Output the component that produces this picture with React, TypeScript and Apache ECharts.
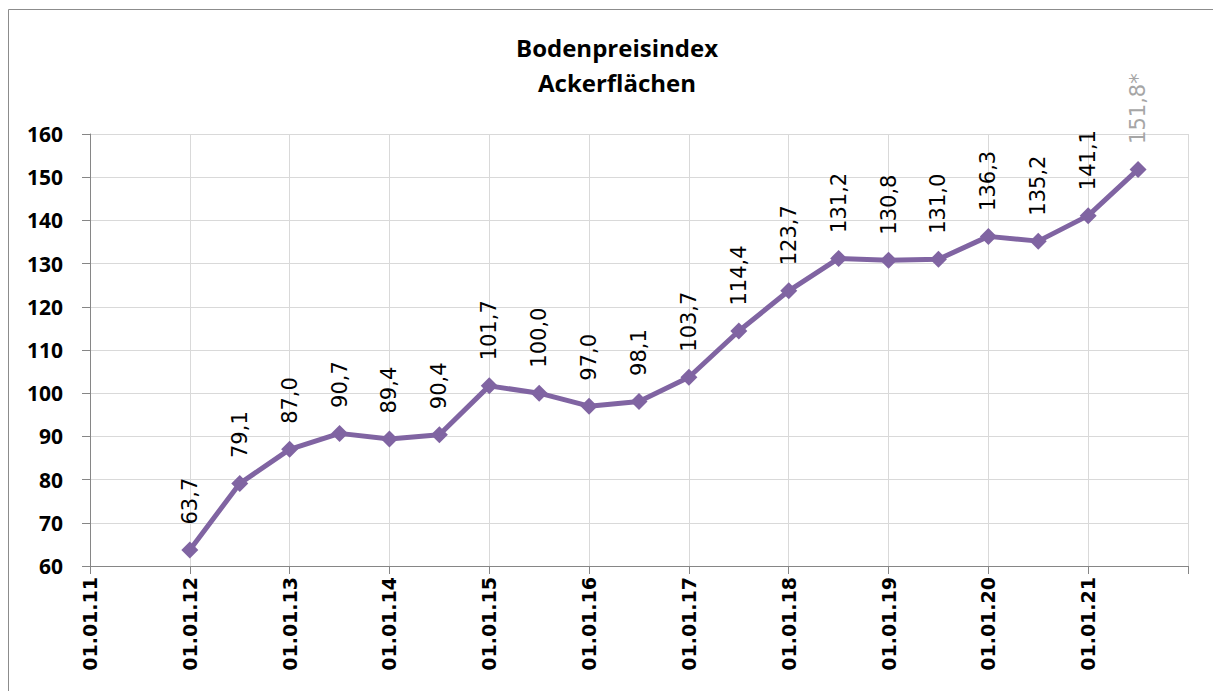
import React, { useEffect, useRef } from "react";
import * as echarts from "echarts";

const tickLabels = [
  "01.01.11", "01.01.12", "01.01.13", "01.01.14", "01.01.15", "01.01.16",
  "01.01.17", "01.01.18", "01.01.19", "01.01.20", "01.01.21",
];
// positions in half-years since 01.01.11
const halfYears = [2, 3, 4, 5, 6, 7, 8, 9, 10, 11, 12, 13, 14, 15, 16, 17, 18, 19, 20, 21];
const values = [
  63.7, 79.1, 87.0, 90.7, 89.4, 90.4, 101.7, 100.0, 97.0, 98.1,
  103.7, 114.4, 123.7, 131.2, 130.8, 131.0, 136.3, 135.2, 141.1, 151.8,
];
const provisional = [false, false, false, false, false, false, false, false, false, false,
  false, false, false, false, false, false, false, false, false, true];

const fmt = (v: number) => v.toFixed(1).replace(".", ",");

export default function App() {
  const ref = useRef<HTMLDivElement>(null);
  useEffect(() => {
    const chart = echarts.init(ref.current!, null, { renderer: "svg" });
    const data = halfYears.map((x, i) => {
      const item: any = { value: [x, values[i]] };
      if (provisional[i]) {
        item.label = { color: "#A6A6A6", formatter: fmt(values[i]) + "*" };
      }
      return item;
    });
    chart.setOption({
      animation: false,
      backgroundColor: "#fff",
      graphic: [
        {
          type: "rect",
          shape: { x: 8.5, y: 9.5, width: 1400, height: 1000 },
          style: { fill: "none", stroke: "#8c8c8c", lineWidth: 1 },
          silent: true,
        },
      ],
      title: {
        text: "Bodenpreisindex\nAckerflächen",
        left: 612,
        top: 25,
        textAlign: "center",
        textStyle: {
          fontFamily: "Open Sans",
          fontWeight: "bold",
          fontSize: 24,
          lineHeight: 35,
          color: "#000",
        },
      },
      grid: { left: 90, right: 25, top: 134, bottom: 125 },
      xAxis: {
        type: "value",
        min: 0,
        max: 22,
        interval: 2,
        axisLine: { show: true, onZero: false, lineStyle: { color: "#868686", width: 1 } },
        axisTick: { show: true, length: 8, lineStyle: { color: "#868686" } },
        splitLine: { show: true, lineStyle: { color: "#D9D9D9", width: 1 } },
        axisLabel: {
          rotate: 90,
          margin: 11,
          fontFamily: "DejaVu Sans",
          fontWeight: "bold",
          fontSize: 19,
          color: "#000",
          showMaxLabel: true,
          formatter: (v: number) => tickLabels[Math.round(v / 2)] ?? "",
        },
      },
      yAxis: {
        type: "value",
        min: 60,
        max: 160,
        interval: 10,
        axisLine: { show: true, lineStyle: { color: "#868686", width: 1 } },
        axisTick: { show: true, length: 8, lineStyle: { color: "#868686" } },
        splitLine: { show: true, lineStyle: { color: "#D9D9D9", width: 1 } },
        axisLabel: {
          margin: 27,
          fontFamily: "Open Sans",
          fontWeight: "bold",
          fontSize: 21,
          color: "#000",
        },
      },
      series: [
        {
          type: "line",
          data,
          symbol: "diamond",
          symbolSize: 17,
          lineStyle: { color: "#8064A2", width: 5 },
          itemStyle: { color: "#8064A2" },
          label: {
            show: true,
            position: "top",
            distance: 17,
            rotate: 90,
            align: "left",
            verticalAlign: "middle",
            fontFamily: "DejaVu Sans",
            fontSize: 21,
            color: "#000",
            formatter: (p: any) => fmt(p.value[1]),
          },
        },
      ],
    });
    return () => chart.dispose();
  }, []);
  return (
    <div
      ref={ref}
      style={{ position: "fixed", left: 0, top: 0, width: 1213, height: 691 }}
    />
  );
}
